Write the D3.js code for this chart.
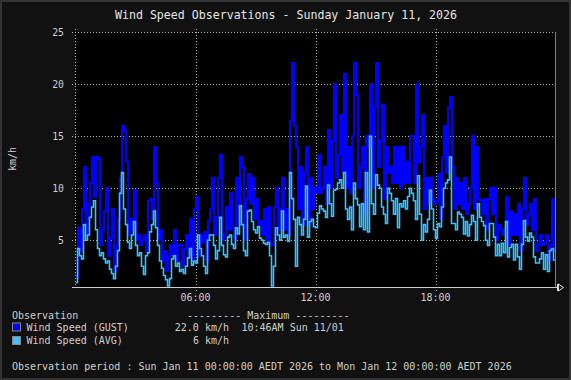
<!DOCTYPE html>
<html><head><meta charset="utf-8">
<script src="https://cdn.jsdelivr.net/npm/d3@7"></script>
<style>body{margin:0;background:#111;}svg{display:block}</style>
</head><body>
<svg id="chart" width="571" height="380"></svg>
<script>
// 6-minute samples, 00:00 -> 24:00 (240 values each)
const gustSpeed = [
 1.5,6.2,4.0,8.0,12.0,5.5,8.5,10.5,13.0,9.2, 13.0,12.8,4.5,6.0,7.8,10.0,3.5,5.2,8.0,2.0,
 4.5,7.0,11.0,16.0,15.5,12.5,5.5,7.0,6.0,9.8, 5.0,5.5,4.5,5.0,5.5,4.0,8.8,9.0,7.0,14.0,
 10.5,5.0,6.0,3.0,4.0,2.0,3.5,4.5,3.5,6.0, 3.0,4.5,4.5,2.5,4.2,5.5,3.5,7.0,3.0,8.0,
 9.2,3.5,5.5,4.8,5.8,3.0,6.8,8.0,11.0,5.5, 7.2,11.0,13.2,5.0,5.5,8.2,6.0,9.5,6.2,5.0,
 11.0,6.5,13.0,12.0,5.0,9.0,11.4,8.5,11.0,7.0, 9.0,6.5,6.8,5.5,8.0,5.0,8.2,4.5,4.5,8.2,
 10.0,6.0,8.0,11.0,6.0,8.0,5.5,16.5,22.0,16.0, 14.0,8.0,12.0,6.5,11.5,14.0,6.5,11.0,8.0,10.0,
 9.5,13.2,9.5,10.0,12.0,8.5,15.6,10.0,14.5,20.0, 11.0,13.2,17.0,11.5,21.0,10.0,14.0,9.5,15.0,22.0,
 19.0,10.0,12.0,14.0,7.5,15.0,14.0,20.0,10.0,17.8, 22.0,12.0,14.5,18.0,9.0,14.0,11.5,12.0,10.5,14.0,
 10.5,14.0,10.0,14.0,10.5,12.5,10.5,15.0,15.0,10.5, 20.0,12.5,14.0,17.0,8.0,11.0,8.5,11.0,9.0,8.5,
 8.8,11.4,7.0,13.0,16.0,11.5,17.8,18.8,12.0,8.0, 11.0,8.5,10.5,8.0,11.0,7.5,8.5,10.0,15.0,8.0,
 14.0,9.0,8.8,7.5,9.0,6.0,9.0,10.0,7.5,10.0, 5.0,6.5,6.0,5.5,6.0,9.2,4.5,7.8,5.5,7.5,
 5.5,8.5,4.0,8.0,11.0,6.5,7.5,8.5,6.0,9.0, 4.0,4.5,5.5,4.5,4.8,5.5,3.0,4.5,9.0,4.0
];
const avgSpeed = [
 0.9,4.2,3.5,3.2,6.5,5.0,5.5,7.2,8.2,8.8, 6.0,4.2,3.5,3.8,3.2,2.8,3.0,2.2,1.8,1.3,
 2.5,4.0,9.5,11.5,8.0,6.5,4.8,4.2,5.5,6.8, 4.5,3.5,3.8,2.5,1.7,3.5,3.8,5.8,6.5,7.8,
 6.2,4.5,3.0,2.3,1.6,1.2,0.6,1.3,3.2,3.5, 2.5,2.8,2.0,2.2,1.8,2.5,3.3,4.2,2.6,3.0,
 2.8,5.5,4.2,3.5,2.5,1.8,5.0,5.5,5.5,4.5, 3.2,4.0,7.2,4.5,3.6,3.4,5.3,5.5,4.6,4.2,
 6.2,5.6,8.3,6.5,4.0,3.5,7.8,7.9,6.8,6.0, 5.7,6.3,5.2,5.0,4.7,4.6,4.8,3.5,0.6,2.5,
 6.2,5.5,5.0,7.8,5.3,5.5,4.9,11.5,9.0,7.0, 2.5,7.2,6.5,5.5,7.0,10.2,5.3,6.8,7.0,6.3,
 6.2,7.6,8.3,8.0,7.8,7.2,10.3,8.5,7.3,9.8, 9.9,10.5,10.8,10.0,11.5,8.0,7.0,8.2,6.0,10.5,
 9.0,8.4,6.3,8.5,6.0,11.5,5.8,15.0,8.5,7.5, 11.3,10.3,10.0,8.2,7.5,6.6,10.0,9.5,8.8,7.5,
 9.0,6.2,8.5,8.2,8.8,8.0,9.2,10.0,9.5,8.8, 7.0,11.2,7.5,5.0,6.5,5.8,7.0,9.8,8.0,6.0,
 5.2,6.6,6.3,8.2,10.0,10.5,10.8,13.0,6.6,6.6, 6.0,7.7,7.5,7.2,5.6,6.8,5.4,6.5,7.4,6.8,
 5.0,8.5,7.2,6.8,6.4,5.0,4.5,6.6,6.6,5.3, 3.5,4.6,3.5,4.7,3.8,6.8,3.4,4.3,4.6,3.1,
 4.6,3.4,2.2,4.6,6.9,5.3,4.9,5.7,5.3,3.4, 2.8,2.8,3.2,3.8,2.2,3.6,2.0,4.0,4.2,3.1
];
const stepMinutes = 6;
const yTickValues = [5, 10, 15, 20, 25];
const xTickMinutes = [360, 720, 1080];
const xTickLabels = ["06:00", "12:00", "18:00"];
const titleText = "Wind Speed Observations - Sunday January 11, 2026";
const yAxisLabel = "km/h";
const seriesNames = ["Wind Speed (GUST)", "Wind Speed (AVG)"];
const seriesMaxText = ["22.0 km/h", "6 km/h"];
const gustMaxTime = "10:46AM Sun 11/01";
const legendHeader = "Observation";
const maxHeader = "--------- Maximum ---------";
const periodText = "Observation period : Sun Jan 11 00:00:00 AEDT 2026 to Mon Jan 12 00:00:00 AEDT 2026";

const W = 571, H = 380;
const PL = 75.5, PR = 555.5, PT = 32.3, PB = 287.5;
const gustColor = "#0000ff", avgColor = "#3fbfff";
const gridColor = "#a6c690";
const textColor = "#cfcfcf";
const mono = "'DejaVu Sans Mono', 'Liberation Mono', monospace";

const svg = d3.select("#chart");
svg.append("rect").attr("width", W).attr("height", H).attr("fill", "#111111");
svg.append("rect").attr("x", 1).attr("y", 1).attr("width", W - 2).attr("height", H - 2)
  .attr("fill", "none").attr("stroke", "#333").attr("stroke-width", 2);

const x = d3.scaleLinear().domain([0, 1440]).range([PL, PR]);
const y = d3.scaleLinear().domain([0.45, 25]).range([PB, PT]);

svg.append("rect").attr("x", PL).attr("y", PT).attr("width", PR - PL).attr("height", PB - PT).attr("fill", "#000");

const grid = svg.append("g").attr("shape-rendering", "crispEdges");
grid.selectAll("line.h").data(yTickValues).enter().append("line")
  .attr("x1", 72).attr("x2", 558)
  .attr("y1", d => Math.round(y(d)) + 0.5).attr("y2", d => Math.round(y(d)) + 0.5)
  .attr("stroke", gridColor).attr("stroke-dasharray", "1,2");
grid.selectAll("line.v").data(xTickMinutes).enter().append("line")
  .attr("x1", d => Math.round(x(d)) + 0.5).attr("x2", d => Math.round(x(d)) + 0.5)
  .attr("y1", PT - 3).attr("y2", PB + 3)
  .attr("stroke", gridColor).attr("stroke-dasharray", "1,2");
grid.append("line").attr("x1", PL).attr("x2", PL).attr("y1", PT - 3).attr("y2", PB)
  .attr("stroke", gridColor).attr("stroke-dasharray", "1,2");

svg.append("clipPath").attr("id", "clip").append("rect")
  .attr("x", PL).attr("y", PT).attr("width", PR - PL).attr("height", PB - PT);

function toPts(arr) {
  const pts = arr.map((v, i) => ({ t: i * stepMinutes, v }));
  pts.push({ t: arr.length * stepMinutes, v: arr[arr.length - 1] });
  return pts;
}
const line = d3.line().x(d => x(d.t)).y(d => y(d.v)).curve(d3.curveStepAfter);

const plot = svg.append("g").attr("clip-path", "url(#clip)");
plot.append("path").datum(toPts(gustSpeed)).attr("d", line)
  .attr("fill", "none").attr("stroke", gustColor).attr("stroke-width", 2)
  .attr("stroke-linejoin", "miter").attr("shape-rendering", "crispEdges");
plot.append("path").datum(toPts(avgSpeed)).attr("d", line)
  .attr("fill", "none").attr("stroke", avgColor).attr("stroke-width", 1.6)
  .attr("stroke-linejoin", "miter");

svg.append("line").attr("x1", PR).attr("x2", PR).attr("y1", PT).attr("y2", PB)
  .attr("stroke", "#8a8a3a").attr("shape-rendering", "crispEdges");

svg.append("line").attr("x1", 72).attr("x2", 558).attr("y1", PB).attr("y2", PB)
  .attr("stroke", "#cccccc").attr("shape-rendering", "crispEdges");
svg.append("path").attr("d", `M558.5,${PB-3.5} L563.5,${PB} L558.5,${PB+3.5} Z M557.5,${PB-3.5} L557.5,${PB+3.5}`)
  .attr("fill", "none").attr("stroke", "#dddddd");

svg.selectAll("text.yt").data(yTickValues).enter().append("text")
  .attr("x", 64).attr("y", d => y(d) + 3.5).attr("text-anchor", "end")
  .attr("font-family", mono).attr("font-size", "9.8px").attr("fill", textColor).text(d => d);
svg.selectAll("text.xt").data(xTickMinutes).enter().append("text")
  .attr("x", d => x(d)).attr("y", 301).attr("text-anchor", "middle")
  .attr("font-family", mono).attr("font-size", "10px").attr("fill", textColor)
  .text((d, i) => xTickLabels[i]);
svg.append("text").attr("transform", "translate(16,159) rotate(-90)").attr("text-anchor", "middle")
  .attr("font-family", mono).attr("font-size", "9.8px").attr("fill", textColor).text(yAxisLabel);
svg.append("text").attr("x", 286).attr("y", 19).attr("text-anchor", "middle")
  .attr("font-family", mono).attr("font-size", "11.6px").attr("fill", "#e4e4e4").text(titleText);

const lg = svg.append("g").attr("font-family", mono).attr("font-size", "10px").attr("fill", textColor)
  .attr("xml:space", "preserve");
lg.append("text").attr("x", 12).attr("y", 318.5).text(legendHeader);
lg.append("text").attr("x", 187).attr("y", 318.5).text(maxHeader);
const rowsY = [330.5, 344];
const colors = [gustColor, avgColor];
seriesNames.forEach((name, i) => {
  lg.append("rect").attr("x", 12.5).attr("y", rowsY[i] - 7.5).attr("width", 8).attr("height", 8)
    .attr("fill", colors[i]).attr("stroke", "#888").attr("stroke-width", 1);
  lg.append("text").attr("x", 26.5).attr("y", rowsY[i]).text(name);
  lg.append("text").attr("x", 229).attr("y", rowsY[i]).attr("text-anchor", "end").text(seriesMaxText[i]);
});
lg.append("text").attr("x", 241.5).attr("y", rowsY[0]).text(gustMaxTime);
lg.append("text").attr("x", 12).attr("y", 370).text(periodText);
</script>
</body></html>
